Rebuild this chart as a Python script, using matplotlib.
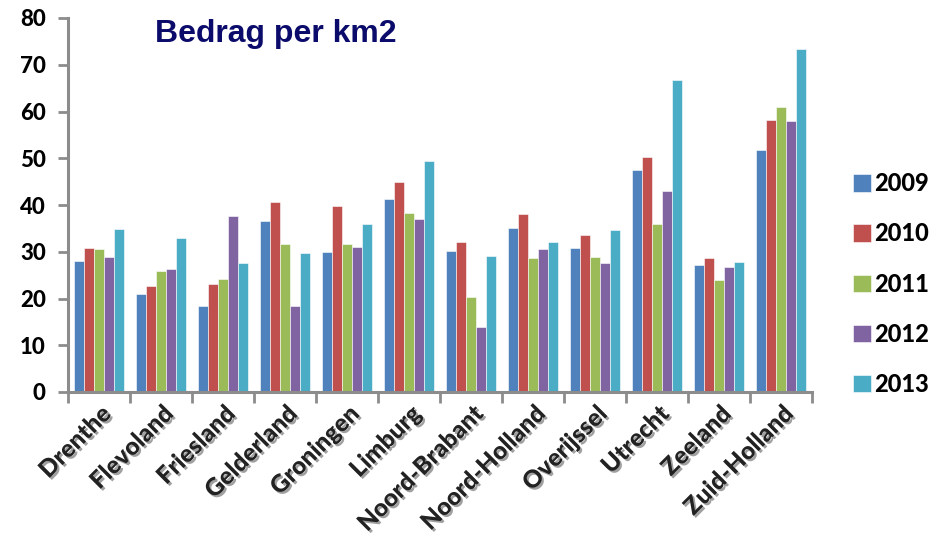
import matplotlib
matplotlib.use("Agg")
import matplotlib.pyplot as plt
import matplotlib.patheffects as pe
import numpy as np

provinces = ["Drenthe", "Flevoland", "Friesland", "Gelderland", "Groningen", "Limburg",
             "Noord-Brabant", "Noord-Holland", "Overijssel", "Utrecht", "Zeeland", "Zuid-Holland"]
years = ["2009", "2010", "2011", "2012", "2013"]
v2009 = [28.0, 21.0, 18.4, 36.5, 30.0, 41.2, 30.2, 35.0, 30.8, 47.5, 27.2, 51.8]
v2010 = [30.8, 22.6, 23.0, 40.6, 39.8, 45.0, 32.1, 38.1, 33.5, 50.2, 28.6, 58.1]
v2011 = [30.5, 25.8, 24.2, 31.6, 31.6, 38.2, 20.4, 28.6, 28.9, 36.0, 23.9, 60.9]
v2012 = [28.9, 26.3, 37.6, 18.4, 31.0, 37.1, 13.8, 30.5, 27.5, 43.1, 26.7, 57.9]
v2013 = [34.9, 33.0, 27.5, 29.7, 36.0, 49.4, 29.1, 32.1, 34.6, 66.7, 27.8, 73.4]
series = [v2009, v2010, v2011, v2012, v2013]
colors = ["#4F81BD", "#C0504D", "#9BBB59", "#8064A2", "#4BACC6"]

fig = plt.figure(figsize=(9.37, 5.44), dpi=100)
ax = fig.add_axes([68/937, 1-392/544, (812-68)/937, (392-18)/544])

x = np.arange(len(provinces))
w = 0.16
for i, (vals, c, yr) in enumerate(zip(series, colors, years)):
    ax.bar(x + (i - 2) * w, vals, width=w, color=c, edgecolor="white", linewidth=0.4, label=yr)

ax.set_xlim(-0.5, len(provinces) - 0.5)
ax.set_ylim(0, 80)
ax.set_yticks(range(0, 81, 10))
ax.set_xticks(x)
ax.set_xticks(np.arange(-0.5, len(provinces), 1), minor=True)
ax.tick_params(axis="x", which="major", length=0, pad=7)
ax.tick_params(axis="x", which="minor", length=8, width=2, color="#8c8c8c", direction="out")
ax.tick_params(axis="y", length=7, width=2, color="#8c8c8c", direction="out", pad=9)

for s in ["top", "right"]:
    ax.spines[s].set_visible(False)
for s in ["left", "bottom"]:
    ax.spines[s].set_color("#8c8c8c")
    ax.spines[s].set_linewidth(2.2)

font = ["Lato", "DejaVu Sans"]
ax.set_yticklabels([str(t) for t in range(0, 81, 10)], fontsize=16, fontweight="black",
                   family=font, color="black")
ax.set_xticklabels(provinces, rotation=45, ha="right", va="top", rotation_mode="anchor",
                   fontsize=17.5, fontweight="black", family=font, color="#222222")
for lab in ax.get_xticklabels():
    lab.set_path_effects([pe.withSimplePatchShadow(offset=(1.5, -1.5), shadow_rgbFace="#888888", alpha=0.8)])

fig.text(155/937, 1-34/544, "Bedrag per km2", fontsize=23, fontweight="bold",
         color="#0b0b6b", family=["Liberation Sans", "DejaVu Sans"], va="center", ha="left")

leg = fig.legend(loc="center left", bbox_to_anchor=(853/937, 1-284/544), frameon=False,
                 prop={"family": font, "weight": "black", "size": 17},
                 handlelength=0.75, handleheight=0.75, handletextpad=0.15,
                 labelspacing=1.15, borderpad=0, borderaxespad=0)

fig.savefig("out.png", dpi=100)
